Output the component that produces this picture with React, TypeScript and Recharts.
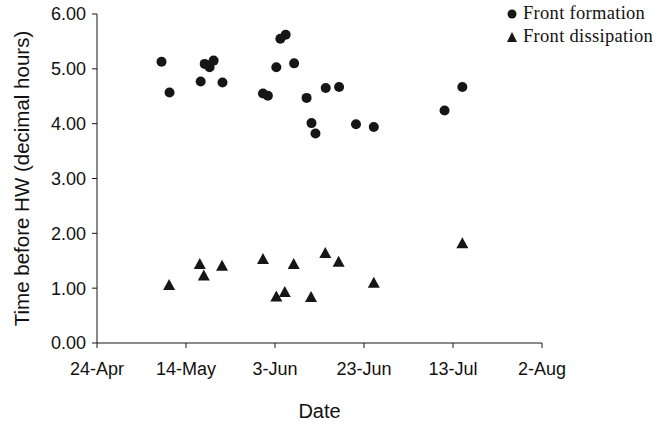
import { Scatter, ScatterChart, XAxis, YAxis } from "recharts";

// days after 24-Apr, time before HW (decimal hours)
const formationDays = [
  14.5, 16.3, 23.3, 24.2, 25.3, 26.2, 28.2, 37.3, 38.4, 40.3, 41.2, 42.4, 44.3, 47.1, 48.2, 49.1, 51.4, 54.4,
  58.2, 62.2, 78.1, 82.1,
];
const formationHours = [
  5.13, 4.57, 4.77, 5.09, 5.03, 5.15, 4.75, 4.55, 4.51, 5.03, 5.55, 5.62, 5.1, 4.47, 4.01, 3.82, 4.65, 4.67,
  3.99, 3.94, 4.24, 4.67,
];
const dissipationDays = [16.2, 23.1, 24.0, 28.1, 37.3, 40.3, 42.2, 44.2, 48.1, 51.3, 54.3, 62.2, 82.1];
const dissipationHours = [1.06, 1.44, 1.23, 1.41, 1.53, 0.85, 0.93, 1.44, 0.84, 1.64, 1.48, 1.1, 1.82];

const dateTicks = [0, 20, 40, 60, 80, 100];
const dateLabels = ["24-Apr", "14-May", "3-Jun", "23-Jun", "13-Jul", "2-Aug"];
const hourTicks = [0, 1, 2, 3, 4, 5, 6];

const formation = formationDays.map((day, i) => ({ day, hours: formationHours[i] }));
const dissipation = dissipationDays.map((day, i) => ({ day, hours: dissipationHours[i] }));

const INK = "#161616";
const SANS = "'Liberation Sans Narrow', 'Liberation Sans', Arial, sans-serif";
const SERIF = "'Liberation Serif', 'Times New Roman', serif";

function Dot(props: { cx?: number; cy?: number }) {
  const { cx = 0, cy = 0 } = props;
  return <circle cx={cx} cy={cy} r={5} fill={INK} />;
}

function Tri(props: { cx?: number; cy?: number }) {
  const { cx = 0, cy = 0 } = props;
  return <path d={`M${cx},${cy - 6}L${cx + 6},${cy + 5}L${cx - 6},${cy + 5}Z`} fill={INK} />;
}

function LegendBox() {
  return (
    <div
      style={{
        position: "absolute",
        left: 506,
        top: 2,
        fontFamily: SERIF,
        fontSize: 18.5,
        letterSpacing: 0.3,
        color: "#111",
        lineHeight: "23px",
      }}
    >
      <div style={{ display: "flex", alignItems: "center" }}>
        <svg width={12} height={12} style={{ marginRight: 5 }}>
          <circle cx={6} cy={6} r={4.5} fill={INK} />
        </svg>
        Front formation
      </div>
      <div style={{ display: "flex", alignItems: "center" }}>
        <svg width={12} height={12} style={{ marginRight: 5 }}>
          <path d="M6,1L11,11L1,11Z" fill={INK} />
        </svg>
        Front dissipation
      </div>
    </div>
  );
}

export default function App() {
  return (
    <div style={{ position: "fixed", left: 0, top: 0, width: 670, height: 430, background: "#fff" }}>
      <ScatterChart width={670} height={430} margin={{ top: 14, right: 128, bottom: 12, left: 40 }}>
        <XAxis
          type="number"
          dataKey="day"
          domain={[0, 100]}
          ticks={dateTicks}
          tickFormatter={(v) => dateLabels[dateTicks.indexOf(v)]}
          height={75}
          tickSize={5}
          tickMargin={14}
          stroke={INK}
          tick={{ fill: "#111", fontSize: 18, fontFamily: SANS }}
          label={{ value: "Date", position: "insideBottom", offset: 0, fill: "#111", fontSize: 20, fontFamily: SANS }}
        />
        <YAxis
          type="number"
          dataKey="hours"
          domain={[0, 6]}
          ticks={hourTicks}
          tickFormatter={(v) => Number(v).toFixed(2)}
          width={57}
          tickSize={5}
          tickMargin={6}
          stroke={INK}
          tick={{ fill: "#111", fontSize: 18, fontFamily: SANS }}
          label={{
            value: "Time before HW (decimal hours)",
            angle: -90,
            position: "insideLeft",
            offset: -18,
            style: { textAnchor: "middle", fill: "#111", fontSize: 20.5, fontFamily: SANS },
          }}
        />
        <Scatter name="Front formation" data={formation} shape={<Dot />} isAnimationActive={false} />
        <Scatter name="Front dissipation" data={dissipation} shape={<Tri />} isAnimationActive={false} />
      </ScatterChart>
      <LegendBox />
    </div>
  );
}
